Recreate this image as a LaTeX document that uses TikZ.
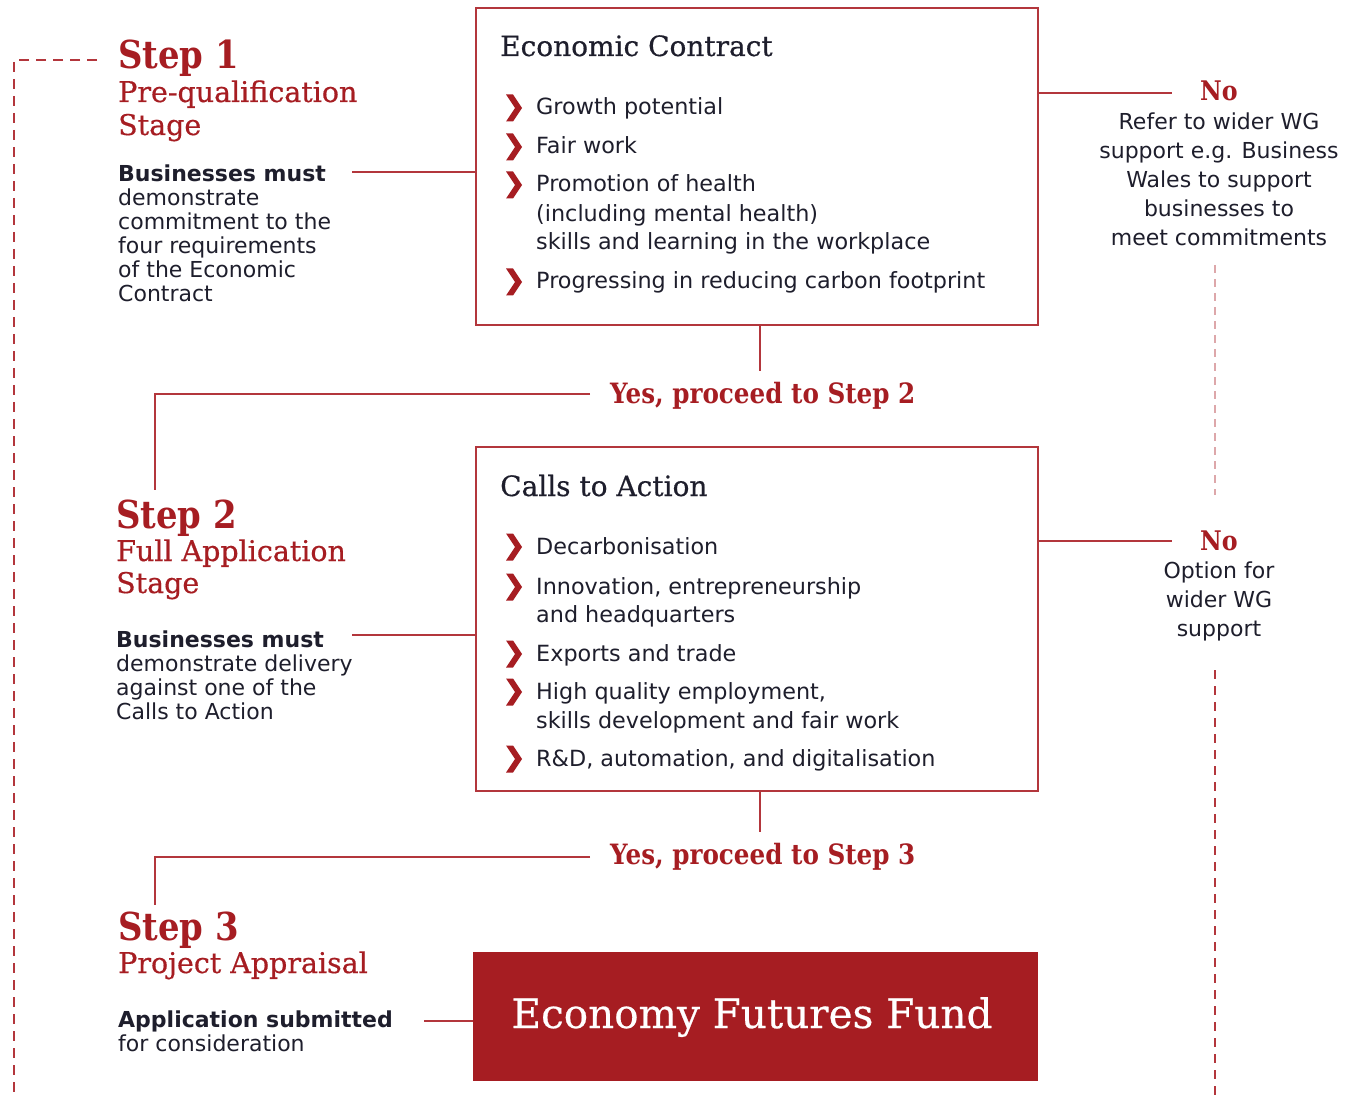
\documentclass[tikz,border=0pt]{standalone}
\usepackage{fontspec}
\setmainfont{DejaVu Sans}
\newfontfamily\slab{DejaVu Serif}
\newfontfamily\slabm[FakeBold=0.5]{DejaVu Serif}
\newfontfamily\slabc[FakeStretch=0.88]{DejaVu Serif}
\definecolor{ered}{HTML}{A61D22}
\definecolor{lred}{HTML}{B3363C}
\definecolor{ink}{HTML}{1E1E2C}
\definecolor{pale}{HTML}{DDA7AA}
\tikzset{
  x=1pt,y=-1pt,
  line/.style={draw=lred,line width=2pt},
  dline/.style={draw=lred,line width=1.8pt,dash pattern=on 10pt off 7pt},
  pline/.style={draw=pale,line width=1.5pt,dash pattern=on 8pt off 6pt},
  frame/.style={draw=lred,line width=2pt,fill=white,inner sep=0pt},
  steptitle/.style={font=\slabc\bfseries\fontsize{38.5}{40}\selectfont,text=ered,anchor=base west,inner sep=0pt},
  stagetxt/.style={font=\slabm\fontsize{28.5}{30}\selectfont,text=ered,anchor=base west,inner sep=0pt},
  body/.style={font=\fontsize{22}{24}\selectfont,text=ink,anchor=north west,inner sep=0pt,align=left},
  boxtitle/.style={font=\slabm\fontsize{28}{30}\selectfont,text=ink,anchor=base west,inner sep=0pt},
  item/.style={font=\fontsize{22.3}{29}\selectfont,text=ink,anchor=base west,inner sep=0pt},
  yeslbl/.style={font=\slabc\bfseries\fontsize{28}{30}\selectfont,text=ered,anchor=base west,inner sep=0pt},
  nolbl/.style={font=\slabc\bfseries\fontsize{27}{30}\selectfont,text=ered,anchor=base,inner sep=0pt},
  notxt/.style={font=\fontsize{22}{29}\selectfont,text=ink,anchor=north,inner sep=0pt,align=center},
  chev/.pic={\fill[ered] (-8,-13.5) -- (-1,-13.5) -- (8,0) -- (-1,13.5) -- (-8,13.5) -- (1,0) -- cycle;}
}
\begin{document}
\begin{tikzpicture}
\useasboundingbox (0,0) rectangle (1353,1099);
% boxes
\node[frame,minimum width=562pt,minimum height=317pt] (box1) at (757,166.5) {};
\node[frame,minimum width=562pt,minimum height=344pt] (box2) at (757,619) {};
\node[fill=ered,draw=none,minimum width=565pt,minimum height=129pt,inner sep=0pt] (box3) at (755.5,1016.5) {};
\node[font=\slabm\fontsize{40.5}{44}\selectfont,text=white,anchor=base,inner sep=0pt] (eff) at (752,1028) {Economy Futures Fund};

% left dashed loop
\coordinate (dtop) at (97,60);
\coordinate (dcorner) at (14,60);
\coordinate (dbot) at (14,1099);
\draw[dline] (dtop) -- (dcorner) -- (dbot);

% Step 1
\node[steptitle] (s1) at (118,69) {Step 1};
\node[stagetxt] (s1a) at (118,102) {Pre-qualification};
\node[stagetxt] (s1b) at (118,135) {Stage};
\node[body] (s1body) at (118,165) {\textbf{Businesses must}\\demonstrate\\commitment to the\\four requirements\\of the Economic\\Contract};
\coordinate (c1) at (352,172);
\draw[line] (c1) -- (c1 -| box1.west);

% Box 1 content
\node[boxtitle] (t1) at (500,56) {Economic Contract};
\pic at (514,108) {chev};
\node[item] (i11) at (536,115) {Growth potential};
\pic at (514,147) {chev};
\node[item] (i12) at (536,154) {Fair work};
\pic at (514,185) {chev};
\node[item] (i13) at (536,192) {Promotion of health};
\node[item] (i13b) at (536,222) {(including mental health)};
\node[item] (i13c) at (536,250) {skills and learning in the workplace};
\pic at (514,282) {chev};
\node[item] (i14) at (536,289) {Progressing in reducing carbon footprint};

% No 1
\coordinate (n1) at (1172,93);
\draw[line] (n1 -| box1.east) -- (n1);
\node[nolbl] (no1) at (1219,101) {No};
\node[notxt] (no1t) at (1219,113) {Refer to wider WG\\support e.g. Business\\Wales to support\\businesses to\\meet commitments};
\coordinate (p1a) at (1215,265);
\coordinate (p1b) at (1215,495);
\draw[pline] (p1a) -- (p1b);

% Yes 2
\coordinate (b1d) at (760,371);
\draw[line] (b1d |- box1.south) -- (b1d);
\node[yeslbl] (yes2) at (610,404) {Yes, proceed to Step 2};
\coordinate (y2a) at (590,394);
\coordinate (y2b) at (155,394);
\coordinate (y2c) at (155,490);
\draw[line] (y2a) -- (y2b) -- (y2c);

% Step 2
\node[steptitle] (s2) at (116,528) {Step 2};
\node[stagetxt] (s2a) at (116,561) {Full Application};
\node[stagetxt] (s2b) at (116,593) {Stage};
\node[body] (s2body) at (116,631) {\textbf{Businesses must}\\demonstrate delivery\\against one of the\\Calls to Action};
\coordinate (c2) at (352,635);
\draw[line] (c2) -- (c2 -| box2.west);

% Box 2 content
\node[boxtitle] (t2) at (500,496) {Calls to Action};
\pic at (514,547) {chev};
\node[item] (i21) at (536,554) {Decarbonisation};
\pic at (514,587) {chev};
\node[item] (i22) at (536,594) {Innovation, entrepreneurship};
\node[item] (i22b) at (536,622) {and headquarters};
\pic at (514,654) {chev};
\node[item] (i23) at (536,661) {Exports and trade};
\pic at (514,692) {chev};
\node[item] (i24) at (536,699) {High quality employment,};
\node[item] (i24b) at (536,728) {skills development and fair work};
\pic at (514,759) {chev};
\node[item] (i25) at (536,766) {R\&D, automation, and digitalisation};

% No 2
\coordinate (n2) at (1172,541);
\draw[line] (n2 -| box2.east) -- (n2);
\node[nolbl] (no2) at (1219,550) {No};
\node[notxt] (no2t) at (1219,562) {Option for\\wider WG\\support};
\coordinate (p2a) at (1215,670);
\coordinate (p2b) at (1215,1099);
\draw[dline,line width=1.5pt,dash pattern=on 9pt off 7pt] (p2a) -- (p2b);

% Yes 3
\coordinate (b2d) at (760,832);
\draw[line] (b2d |- box2.south) -- (b2d);
\node[yeslbl] (yes3) at (610,864) {Yes, proceed to Step 3};
\coordinate (y3a) at (590,857);
\coordinate (y3b) at (155,857);
\coordinate (y3c) at (155,905);
\draw[line] (y3a) -- (y3b) -- (y3c);

% Step 3
\node[steptitle] (s3) at (118,940) {Step 3};
\node[stagetxt] (s3a) at (118,973) {Project Appraisal};
\node[body] (s3body) at (118,1011) {\textbf{Application submitted}\\for consideration};
\coordinate (c3) at (424,1021);
\draw[line] (c3) -- (c3 -| box3.west);
\end{tikzpicture}
\end{document}
